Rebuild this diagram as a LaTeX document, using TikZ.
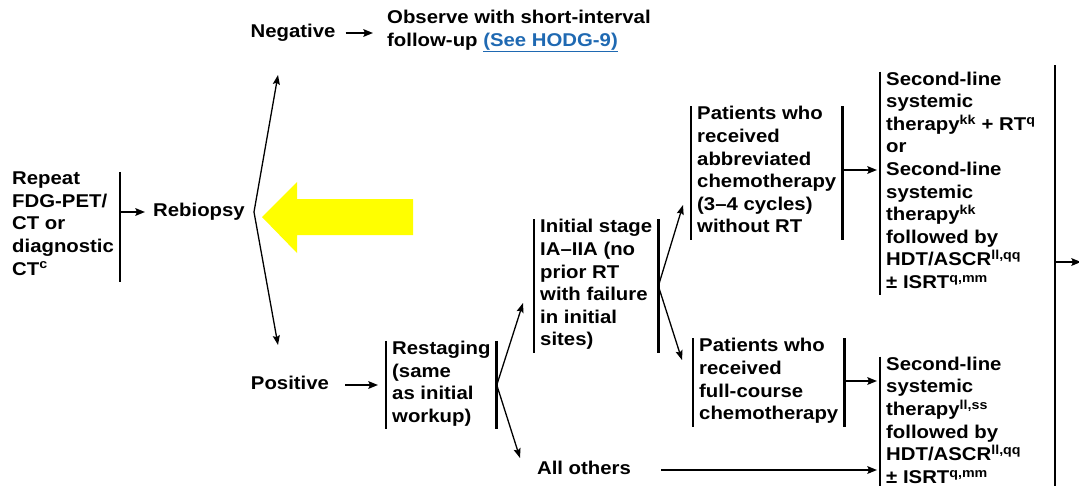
\documentclass[tikz,border=0pt]{standalone}
\usepackage{fontspec}
\setmainfont{Liberation Sans}[FakeStretch=1.1]
\usetikzlibrary{arrows.meta}
\definecolor{linkblue}{RGB}{31,105,178}
\definecolor{hiyellow}{RGB}{255,255,0}

\begin{document}
\begin{tikzpicture}[x=1pt,y=-1pt,
  lbl/.style={font={\fontsize{18.5}{22.6}\selectfont\bfseries}, inner xsep=6pt, inner ysep=0pt, align=left,
    execute at begin node=\strut, execute at end node=\strut},
  vbar/.style={line width=2.6pt},
  arr/.style={line width=2pt, -{Stealth[length=9.5pt,width=7.5pt,inset=1.5pt]}},
  fork/.style={line width=1.3pt, -{Stealth[length=9.5pt,width=7pt,inset=1.5pt]}}]
\useasboundingbox (0,0) rectangle (1079,485);

% linke Spalte
\node[lbl, anchor=west] (repeat) at (6,227) {Repeat\\FDG-PET/\\CT or\\diagnostic\\CT\textsuperscript{c}};
\node[lbl, anchor=west] (rebiopsy) at (147,212) {Rebiopsy};
\draw[vbar] (repeat.north east) -- (repeat.south east);
\draw[arr, shorten >=2pt] (repeat.east |- rebiopsy.west) -- (rebiopsy.west);

% gelber Pfeil
\fill[hiyellow] (262,217) -- (297,182) -- (297,199) -- (413,199) -- (413,235) -- (297,235) -- (297,253) -- cycle;

% Verzweigung Rebiopsy
\coordinate (negtip) at (278,75);
\coordinate (postip) at (278,345);
\draw[fork] ([xshift=3pt]rebiopsy.east) -- (negtip);
\draw[fork] ([xshift=3pt]rebiopsy.east) -- (postip);

% negativ
\node[lbl] (negative) at (293,33) {Negative};
\node[lbl, anchor=west] (observe) at (381,31.5) {Observe with short-interval\\follow-up \textcolor{linkblue}{\underline{(See HODG-9)}}};
\draw[arr, shorten <=4pt, shorten >=8pt] (negative.east) -- (observe.west |- negative.east);

% positiv
\node[lbl] (positive) at (290,385) {Positive};
\node[lbl, anchor=west] (restage) at (386,385) {Restaging\\(same\\as initial\\workup)};
\draw[vbar] (restage.north west) -- (restage.south west);
\draw[vbar] (restage.north east) -- (restage.south east);
\draw[arr, shorten <=10pt, shorten >=8pt] (positive.east) -- (restage.west);

% Verzweigung Restaging
\coordinate (inittip) at (523,303);
\coordinate (othtip) at (520,458);
\draw[fork] (restage.east) -- (inittip);
\draw[fork] (restage.east) -- (othtip);

\node[lbl, anchor=west] (initial) at (534,286) {Initial stage\\IA--IIA (no\\prior RT\\with failure\\in initial\\sites)};
\draw[vbar] (initial.north west) -- (initial.south west);
\draw[vbar] (initial.north east) -- (initial.south east);
\node[lbl] (others) at (584,470) {All others};

% Verzweigung Initial stage
\coordinate (abtip) at (683,205);
\coordinate (fctip) at (682,360);
\draw[fork] (initial.east) -- (abtip);
\draw[fork] (initial.east) -- (fctip);

\node[lbl, anchor=west] (abbrev) at (691,173) {Patients who\\received\\abbreviated\\chemotherapy\\(3--4 cycles)\\without RT};
\draw[vbar] (abbrev.north west) -- (abbrev.south west);
\draw[vbar] (abbrev.north east) -- (abbrev.south east);

\node[lbl, anchor=west] (fullc) at (693,382.5) {Patients who\\received\\full-course\\chemotherapy};
\draw[vbar] (fullc.north west) -- (fullc.south west);
\draw[vbar] (fullc.north east) -- (fullc.south east);

% zweite Linie
\node[lbl, anchor=west] (second1) at (880,183.5) {Second-line\\systemic\\therapy\textsuperscript{kk} + RT\textsuperscript{q}\\or\\Second-line\\systemic\\therapy\textsuperscript{kk}\\followed by\\HDT/ASCR\textsuperscript{ll,qq}\\± ISRT\textsuperscript{q,mm}};
\draw[vbar] (second1.north west) -- (second1.south west);

\node[lbl, anchor=west] (second2) at (880,423.5) {Second-line\\systemic\\therapy\textsuperscript{ll,ss}\\followed by\\HDT/ASCR\textsuperscript{ll,qq}\\± ISRT\textsuperscript{q,mm}};
\draw[vbar] (second2.north west) -- (second2.south west);

\draw[arr, shorten >=3pt] (abbrev.east |- 0,170) -- (second1.west |- 0,170);
\draw[arr, shorten >=3pt] (fullc.east |- 0,381) -- (second2.west |- 0,381);
\draw[arr, shorten <=24pt, shorten >=3pt] (others.east) -- (others.east -| second2.west);

% rechter Balken
\coordinate (bigtop) at (1055,65);
\coordinate (bigbot) at (1055,490);
\coordinate (bigmid) at (1055,262);
\coordinate (outtip) at (1081,262);
\draw[vbar] (bigtop) -- (bigbot);
\draw[arr] (bigmid) -- (outtip);

\end{tikzpicture}
\end{document}
